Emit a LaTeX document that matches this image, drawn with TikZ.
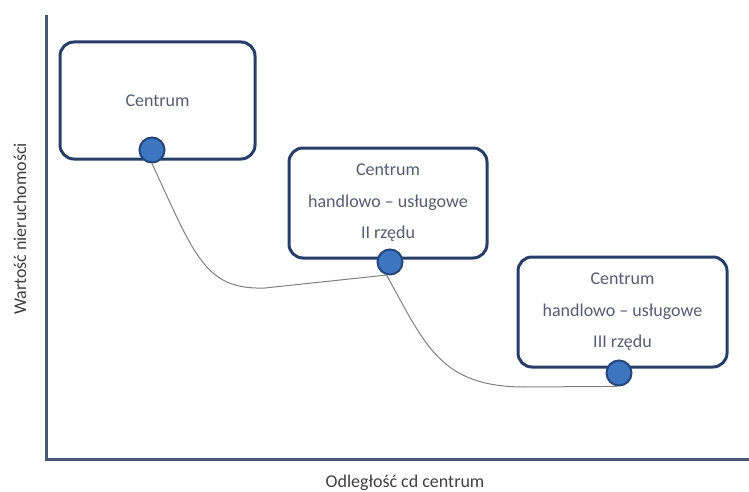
\documentclass[tikz,border=0pt]{standalone}
\usepackage{fontspec}
\setmainfont{Carlito}
\usepackage{tikz}
\usetikzlibrary{positioning}
\definecolor{boxColor}{RGB}{38,62,104}
\definecolor{axisColor}{RGB}{70,88,115}
\definecolor{dotColor}{RGB}{62,117,192}
\definecolor{dotLine}{RGB}{36,70,120}
\definecolor{labelColor}{RGB}{88,92,112}
\tikzstyle{plan} = [x = 1pt, y = -1pt]
\tikzstyle{centreBox} = [draw=boxColor, line width=3pt, rounded corners = 14pt, fill=white,
  align=center, text=labelColor, font=\fontsize{18}{31.5}\selectfont]
\tikzstyle{centreDot} = [circle, draw=dotLine, line width=2pt, fill=dotColor, minimum size=25pt, inner sep=0pt]
\tikzstyle{axisLine} = [color=axisColor, line width=3pt]
\tikzstyle{valueCurve} = [color=gray, line width=1pt]
\tikzstyle{axisText} = [text=black!75, font=\fontsize{18}{20}\selectfont]
\newcommand{\centreBox}[5]{\node [centreBox, minimum width=#3pt, minimum height=#4pt] (#1) at #2 {#5};}

\begin{document}
\begin{tikzpicture}[plan]
  \useasboundingbox (0,0) rectangle (749,492);
  % axes
  \coordinate (top) at (46,15);
  \coordinate (origin) at (46,459);
  \coordinate (right) at (749,459);
  \draw [axisLine] (top) -- (origin) -- (right);
  \node [axisText, rotate=90] (valueLabel) at (20,229) {Wartość nieruchomości};
  \node [axisText] (distanceLabel) at (405,483) {Odległość cd centrum};

  % centres
  \centreBox{first}{(157.5,100.5)}{195}{117}{Centrum}
  \centreBox{second}{(388,203)}{198}{110}{Centrum\\handlowo -- usługowe\\II rzędu}
  \centreBox{third}{(622.5,312)}{209}{110}{Centrum\\handlowo -- usługowe\\III rzędu}

  \node [centreDot] (firstDot) at (152,150) {};
  \node [centreDot] (secondDot) at (390,262) {};
  \node [centreDot] (thirdDot) at (619,373) {};

  % curve
  \coordinate (firstBend) at (265,288);
  \coordinate (secondBend) at (525,387);
  \draw [valueCurve] (firstDot.south) .. controls +(43,93) and +(-60,2) .. (firstBend)
    -- (secondDot.-105) .. controls +(39,70) and +(-85,0) .. (secondBend) -- (thirdDot.-97);
\end{tikzpicture}
\end{document}
